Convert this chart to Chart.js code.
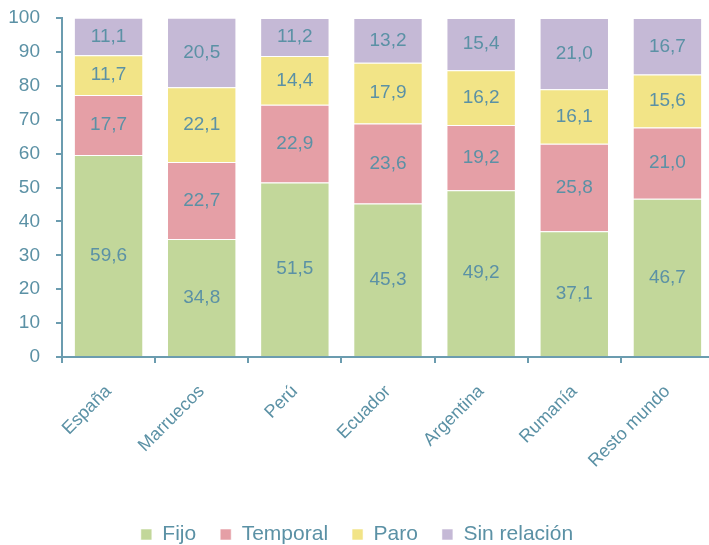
<!DOCTYPE html>
<html>
<head>
<meta charset="utf-8">
<script src="https://cdn.jsdelivr.net/npm/chart.js@4"></script>
<style>
  html, body { margin: 0; padding: 0; background: #fff; overflow: hidden; }
  #wrap { width: 714px; height: 545px; }
</style>
</head>
<body>
<div id="wrap"><canvas id="empleoChart"></canvas></div>
<script>
// categories and series
const paises = ['España', 'Marruecos', 'Perú', 'Ecuador', 'Argentina', 'Rumanía', 'Resto mundo'];
const fijo = [59.6, 34.8, 51.5, 45.3, 49.2, 37.1, 46.7];
const temporal = [17.7, 22.7, 22.9, 23.6, 19.2, 25.8, 21.0];
const paro = [11.7, 22.1, 14.4, 17.9, 16.2, 16.1, 15.6];
const sinRelacion = [11.1, 20.5, 11.2, 13.2, 15.4, 21.0, 16.7];

const azul = '#5b91a5';
const ejeColor = '#6b9caf';

Chart.defaults.font.family = "'Liberation Sans', Arial, sans-serif";
Chart.defaults.color = azul;

// values written in the middle of each segment
const etiquetas = {
  id: 'etiquetas',
  afterDatasetsDraw(chart) {
    const ctx = chart.ctx;
    ctx.save();
    ctx.font = "19px 'Liberation Sans', Arial, sans-serif";
    ctx.fillStyle = azul;
    ctx.textAlign = 'center';
    ctx.textBaseline = 'middle';
    chart.data.datasets.forEach((ds, i) => {
      chart.getDatasetMeta(i).data.forEach((bar, j) => {
        const y = (bar.y + bar.base) / 2;
        ctx.fillText(ds.data[j].toFixed(1).replace('.', ','), bar.x, y);
      });
    });
    ctx.restore();
  }
};

new Chart(document.getElementById('empleoChart').getContext('2d'), {
  type: 'bar',
  data: {
    labels: paises,
    datasets: [
      { label: 'Fijo', data: fijo, backgroundColor: '#c2d79a' },
      { label: 'Temporal', data: temporal, backgroundColor: '#e59fa6' },
      { label: 'Paro', data: paro, backgroundColor: '#f2e487' },
      { label: 'Sin relación', data: sinRelacion, backgroundColor: '#c5b9d6' }
    ]
  },
  options: {
    responsive: true,
    maintainAspectRatio: false,
    animation: false,
    layout: { padding: { top: 18, right: 0, left: 0, bottom: -10 } },
    datasets: {
      bar: { categoryPercentage: 0.745, barPercentage: 1, borderWidth: 1, borderColor: 'rgba(255,255,255,0.55)' }
    },
    scales: {
      x: {
        stacked: true,
        grid: { drawOnChartArea: false, tickLength: 6, color: ejeColor, lineWidth: 2 },
        border: { color: ejeColor, width: 2 },
        ticks: { font: { size: 18 }, maxRotation: 45, minRotation: 45, color: azul, padding: 18 },
        afterFit(scale) {
          scale.height = 143;
          scale.paddingLeft = 0;
          scale.paddingRight = 0;
        }
      },
      y: {
        stacked: true,
        min: 0,
        max: 100,
        grid: { drawOnChartArea: false, tickLength: 6, color: ejeColor, lineWidth: 2 },
        border: { color: ejeColor, width: 2 },
        ticks: { stepSize: 10, font: { size: 19 }, color: azul, padding: 16 },
        afterFit(scale) {
          scale.width = 62;
          scale.paddingTop = 0;
          scale.paddingBottom = 0;
        }
      }
    },
    plugins: {
      legend: {
        position: 'bottom',
        labels: { boxWidth: 11, boxHeight: 11, padding: 24, font: { size: 21 }, color: azul }
      },
      tooltip: { enabled: false }
    }
  },
  plugins: [etiquetas]
});
</script>
</body>
</html>
